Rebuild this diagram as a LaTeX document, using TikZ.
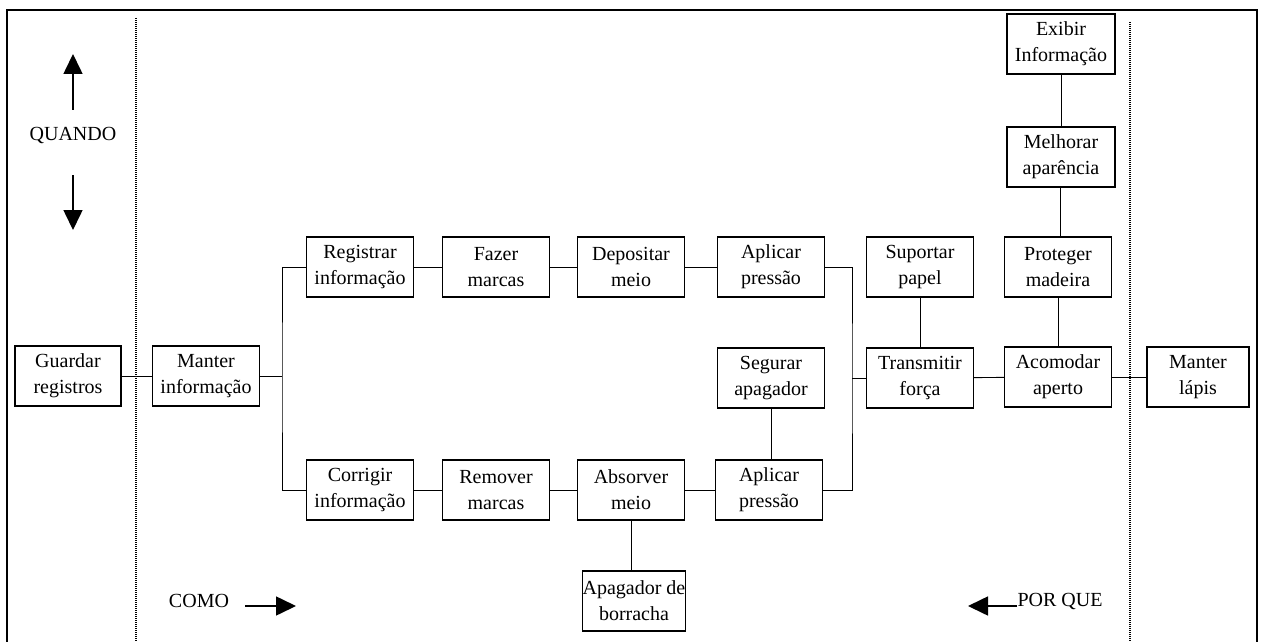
\documentclass[tikz,border=0pt]{standalone}
\usepackage{fontspec}
\setmainfont{Liberation Serif}
\usetikzlibrary{arrows.meta}
\begin{document}
\begin{tikzpicture}[x=1pt,y=-1pt,
  fbox/.style={draw,line width=1.1pt,minimum width=107pt,minimum height=60pt,
    inner sep=0pt,align=center,font=\fontsize{20}{26}\selectfont},
  link/.style={line width=0.9pt},
  frame/.style={line width=1.8pt},
  divider/.style={line width=1.5pt,dash pattern=on 1pt off 1pt},
  bigarrow/.style={line width=1.6pt,-{Triangle[length=20pt,width=19pt]}},
  lbl/.style={font=\fontsize{20}{24}\selectfont,inner sep=0pt}]
\useasboundingbox (0,0) rectangle (1262,642);

% frame and the two dotted dividers
\draw[frame] (7,642) -- (7,10) -- (1257,10) -- (1257,642);
\draw[divider] (136,18) -- (136,642);
\draw[divider] (1130,22) -- (1130,642);

% functions
\node[fbox,minimum width=106pt] (guard) at (68,376) {Guardar\\registros};
\node[fbox] (manter) at (206,376) {Manter\\informação};
\node[fbox] (reg)  at (360,267) {Registrar\\informação};
\node[fbox] (fazer) at (496,267) {Fazer\\marcas};
\node[fbox] (dep)  at (631,267) {Depositar\\meio};
\node[fbox] (apl1) at (771,267) {Aplicar\\pressão};
\node[fbox] (sup)  at (920,267) {Suportar\\papel};
\node[fbox] (prot) at (1058,267) {Proteger\\madeira};
\node[fbox,minimum width=108pt] (melh) at (1061,157) {Melhorar\\aparência};
\node[fbox,minimum width=108pt] (exib) at (1061,44) {Exibir\\Informação};
\node[fbox] (seg)  at (771,378) {Segurar\\apagador};
\node[fbox] (trans) at (920,378) {Transmitir\\força};
\node[fbox] (acom) at (1058,377) {Acomodar\\aperto};
\node[fbox,minimum width=102pt] (mlap) at (1198,377) {Manter\\lápis};
\node[fbox] (corr) at (360,490) {Corrigir\\informação};
\node[fbox] (rem)  at (496,490) {Remover\\marcas};
\node[fbox] (abs)  at (631,490) {Absorver\\meio};
\node[fbox] (apl2) at (769,490) {Aplicar\\pressão};
\node[fbox,minimum width=103pt] (apag) at (634,601) {Apagador de\\borracha};

% branch points
\coordinate (jm) at (282,376);
\coordinate (jt) at (852,378);

% connectors
\draw[link] (guard) -- (manter);
\draw[link] (manter) -- (jm);
\draw[link] (reg.west) -| (jm) |- (corr.west);
\draw[link] (reg) -- (fazer);
\draw[link] (fazer) -- (dep);
\draw[link] (dep) -- (apl1);
\draw[link] (corr) -- (rem);
\draw[link] (rem) -- (abs);
\draw[link] (abs) -- (apl2);
\draw[link] (abs.south) -- (abs.south |- apag.north);
\draw[link] (apl1.east) -| (jt) |- (apl2.east);
\draw[link] (jt) -- (trans.west);
\draw[link] (seg) -- (seg |- apl2.north);
\draw[link] (sup) -- (trans);
\draw[link] (trans) -- (acom);
\draw[link] (acom) -- (prot);
\draw[link] ([xshift=2pt]prot.north) -- ([xshift=2pt]prot.north |- melh.south);
\draw[link] (melh) -- (exib);
\draw[link] (acom) -- (mlap);

% direction labels
\node[lbl] (quando) at (73,135) {QUANDO};
\coordinate (qup0) at (73,110);
\coordinate (qup1) at (73,54);
\coordinate (qdn0) at (73,175);
\coordinate (qdn1) at (73,230);
\draw[bigarrow] (qup0) -- (qup1);
\draw[bigarrow] (qdn0) -- (qdn1);

\node[lbl] (como) at (199,601) {COMO};
\coordinate (ca0) at (245,606);
\coordinate (ca1) at (296,606);
\draw[bigarrow] (ca0) -- (ca1);

\node[lbl] (porque) at (1060,601) {POR QUE};
\coordinate (pa0) at (1017,606);
\coordinate (pa1) at (968,606);
\draw[bigarrow] (pa0) -- (pa1);
\end{tikzpicture}
\end{document}
